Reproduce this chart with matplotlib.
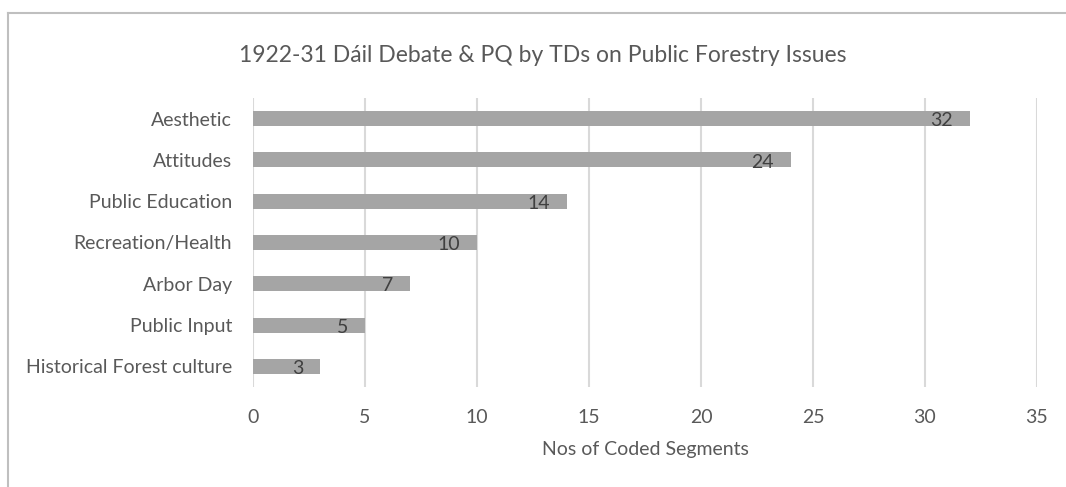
import matplotlib.pyplot as plt
from matplotlib.lines import Line2D

categories = ["Aesthetic", "Attitudes", "Public Education", "Recreation/Health",
              "Arbor Day", "Public Input", "Historical Forest culture"]
counts = [32, 24, 14, 10, 7, 5, 3]
x_ticks = [0, 5, 10, 15, 20, 25, 30, 35]

title = "1922-31 Dáil Debate & PQ by TDs on Public Forestry Issues"
x_title = "Nos of Coded Segments"

TEXT = "#595959"
BAR = "#A5A5A5"
GRID = "#D9D9D9"

plt.rcParams["font.family"] = ["Lato", "DejaVu Sans"]

W, H = 1066, 487
fig = plt.figure(figsize=(W / 100, H / 100), dpi=100)
ax = fig.add_axes([253 / W, 1 - 387 / H, (1037 - 253) / W, (387 - 98) / H])

pos = list(range(len(categories)))
bars = ax.barh(pos, counts, height=0.36, color=BAR, zorder=2)
ax.set_ylim(len(categories) - 0.5, -0.5)
ax.set_xlim(0, 35)
ax.set_xticks(x_ticks)
ax.set_yticks(pos)
ax.set_yticklabels(categories)
ax.grid(axis="x", color=GRID, linewidth=1.5, zorder=0)
ax.grid(axis="y", visible=False)
for s in ax.spines.values():
    s.set_visible(False)
ax.tick_params(axis="both", length=0, labelcolor=TEXT, labelsize=14)
ax.tick_params(axis="x", pad=15.5)
ax.tick_params(axis="y", pad=15)

for y, v in zip(pos, counts):
    ax.annotate(str(v), (v, y), xytext=(-12.2, -1.5), textcoords="offset points",
                ha="right", va="center", color="#404040", fontsize=14, zorder=3)

fig.text(543 / W, 1 - 55 / H, title, ha="center", va="center", color=TEXT, fontsize=16.5)
fig.text(645 / W, 1 - 449 / H, x_title, ha="center", va="center", color=TEXT, fontsize=14)

# chart area border (only top and left visible in the crop)
fig.add_artist(Line2D([8 / W, 8 / W], [0, 1 - 13 / H], transform=fig.transFigure,
                      color="#BFBFBF", linewidth=1.5))
fig.add_artist(Line2D([8 / W, 1], [1 - 13 / H, 1 - 13 / H], transform=fig.transFigure,
                      color="#BFBFBF", linewidth=1.5))

fig.savefig("out.png", dpi=100)
